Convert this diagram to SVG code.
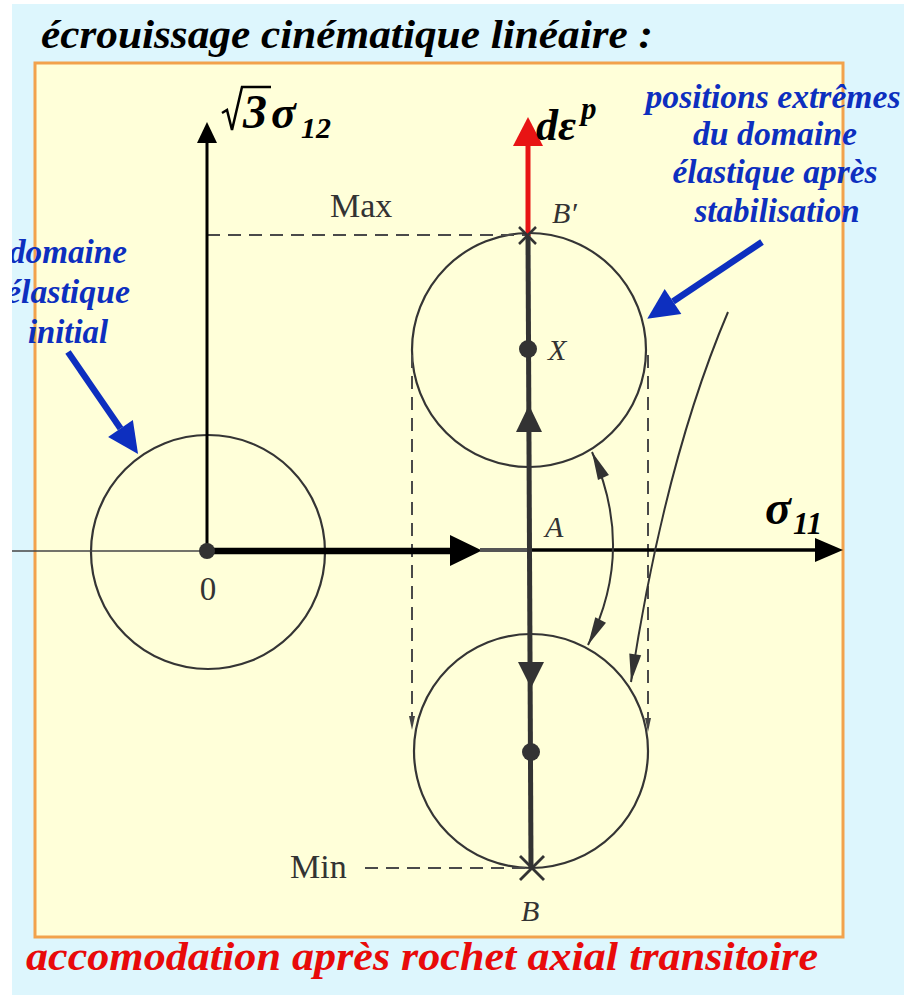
<svg xmlns="http://www.w3.org/2000/svg" width="904" height="995" viewBox="0 0 904 995">
<defs>
<style>
.circ{fill:none;stroke:#353535;stroke-width:2.2}
.dash{fill:none;stroke:#4a4a4a;stroke-width:2;stroke-dasharray:13 8}
.lbl{font-family:"Times New Roman","Liberation Serif",Times,"Nimbus Roman",serif;fill:#333}
.it{font-style:italic}
.blue{font-family:"Times New Roman","Liberation Serif",Times,"Nimbus Roman",serif;font-weight:bold;font-style:italic;fill:#0d2fbf;font-size:34px;text-anchor:middle}
.math{font-family:"Times New Roman","Liberation Serif",Times,"Nimbus Roman",serif;font-weight:bold;font-style:italic;fill:#000}
.thin{fill:none;stroke:#333;stroke-width:2}
</style>
<marker id="bluehead" markerUnits="userSpaceOnUse" markerWidth="30" markerHeight="30" refX="0" refY="15" orient="auto" overflow="visible">
<path d="M0,0 L31,15 L0,30 Z" fill="#0d2fbf"/>
</marker>
<marker id="thinhead" markerUnits="userSpaceOnUse" markerWidth="28" markerHeight="12" refX="28" refY="6" orient="auto-start-reverse" overflow="visible">
<path d="M0,0 L28,6 L0,12 Z" fill="#333"/>
</marker>
<marker id="tinyhead" markerUnits="userSpaceOnUse" markerWidth="14" markerHeight="6" refX="14" refY="3" orient="auto" overflow="visible">
<path d="M0,0 L14,3 L0,6 Z" fill="#444"/>
</marker>
<clipPath id="imgclip"><rect x="12" y="4" width="892" height="991"/></clipPath>
</defs>

<rect x="0" y="0" width="904" height="995" fill="#ffffff"/>
<rect x="12" y="4" width="892" height="991" fill="#ddf6fd"/>
<rect id="box" x="35" y="63" width="808" height="874" fill="#ffffd9" stroke="#f2a24c" stroke-width="3"/>

<text id="title" class="math" x="41" y="48" font-size="41" textLength="612" lengthAdjust="spacingAndGlyphs">écrouissage cinématique linéaire :</text>

<g id="circles">
<circle id="c-initial" class="circ" cx="208" cy="552" r="117"/>
<circle id="c-upper" class="circ" cx="529" cy="350" r="117"/>
<circle id="c-lower" class="circ" cx="531" cy="751" r="117"/>
</g>

<g id="connectors">
<line class="dash" x1="207" y1="235" x2="527" y2="235"/>
<line class="dash" x1="365" y1="868" x2="528" y2="868"/>
<line class="dash" x1="412" y1="355" x2="412" y2="730" marker-end="url(#tinyhead)"/>
<line class="dash" x1="648" y1="355" x2="648" y2="732" marker-end="url(#tinyhead)"/>

<line x1="207" y1="551" x2="207" y2="140" stroke="#000" stroke-width="3"/>
<polygon points="197,143 217,143 207,122" fill="#000"/>

<line x1="12" y1="551" x2="207" y2="551" stroke="#444" stroke-width="1.6"/>
<line x1="207" y1="551" x2="455" y2="551" stroke="#000" stroke-width="6.5"/>
<polygon points="450,535 450,566 482,550.5" fill="#000"/>
<line x1="480" y1="550" x2="529" y2="550" stroke="#555" stroke-width="4"/>
<line x1="527" y1="550" x2="818" y2="550" stroke="#000" stroke-width="3.5"/>
<polygon points="815,538 815,562 843,550" fill="#000"/>

<line x1="528" y1="235" x2="531" y2="868" stroke="#333" stroke-width="5"/>
<polygon points="516,432 542,432 529,405" fill="#333"/>
<polygon points="518,662 544,662 531,688" fill="#333"/>

<line x1="528" y1="236" x2="528" y2="142" stroke="#e81414" stroke-width="5"/>
<polygon points="513,146 543,146 528,117" fill="#e81414"/>

<path class="thin" d="M592,452 Q636,550 588,645" marker-start="url(#thinhead)" marker-end="url(#thinhead)"/>
<path class="thin" d="M728,312 Q665,460 631,682" marker-end="url(#thinhead)"/>

<path d="M68,352 L120.5,428.5" stroke="#0d2fbf" stroke-width="6.5" fill="none" marker-end="url(#bluehead)"/>
<path d="M762,242 L673,301.5" stroke="#0d2fbf" stroke-width="6.5" fill="none" marker-end="url(#bluehead)"/>
</g>

<g id="points">
<circle cx="207" cy="551" r="8" fill="#333"/>
<circle cx="528" cy="349" r="9" fill="#333"/>
<circle cx="531" cy="752" r="9" fill="#333"/>
<g id="cross-Bp" stroke="#333" stroke-width="2.5">
<line x1="519" y1="227" x2="536" y2="244"/>
<line x1="536" y1="227" x2="519" y2="244"/>
</g>
<g id="cross-B" stroke="#333" stroke-width="2.8">
<line x1="520" y1="856" x2="544" y2="880"/>
<line x1="544" y1="856" x2="520" y2="880"/>
</g>
</g>

<g id="labels">
<text class="lbl" x="330" y="217" font-size="34">Max</text>
<text class="lbl" x="290" y="878" font-size="34">Min</text>
<text class="lbl it" x="552" y="223" font-size="30">B′</text>
<text class="lbl it" x="548" y="360" font-size="30">X</text>
<text class="lbl it" x="545" y="537" font-size="30">A</text>
<text class="lbl it" x="521" y="921" font-size="30">B</text>
<text class="lbl" x="208" y="600" font-size="33" text-anchor="middle">0</text>
</g>

<g id="axis-sigma12-label">
<path d="M222,113 L227,110 L232,130 L242,87 L271,87" fill="none" stroke="#000" stroke-width="2.5"/>
<text class="math" x="243" y="128" font-size="48">3</text>
<text class="math" x="271" y="128" font-size="46">σ</text>
<text class="math" x="301" y="138" font-size="30">12</text>
</g>

<g id="axis-sigma11-label">
<text class="math" x="765" y="524" font-size="48">σ</text>
<text class="math" x="793" y="534" font-size="31">11</text>
</g>

<g id="deps-label">
<text class="math" x="536" y="140" font-size="44">dε</text>
<text class="math" x="581" y="119" font-size="31">p</text>
</g>

<g id="note-initial" clip-path="url(#imgclip)">
<text class="blue" x="68" y="263" textLength="118" lengthAdjust="spacingAndGlyphs">domaine</text>
<text class="blue" x="68" y="303" textLength="124" lengthAdjust="spacingAndGlyphs">élastique</text>
<text class="blue" x="68" y="343" textLength="80" lengthAdjust="spacingAndGlyphs">initial</text>
</g>

<g id="note-extremes">
<text class="blue" x="773" y="108" textLength="255" lengthAdjust="spacingAndGlyphs">positions extrêmes</text>
<text class="blue" x="775" y="145" textLength="164" lengthAdjust="spacingAndGlyphs">du domaine</text>
<text class="blue" x="775" y="183" textLength="205" lengthAdjust="spacingAndGlyphs">élastique après</text>
<text class="blue" x="777" y="222" textLength="165" lengthAdjust="spacingAndGlyphs">stabilisation</text>
</g>

<text id="caption" class="math" x="26" y="970" font-size="41" style="fill:#e80a0a" textLength="792" lengthAdjust="spacingAndGlyphs">accomodation après rochet axial transitoire</text>
</svg>
